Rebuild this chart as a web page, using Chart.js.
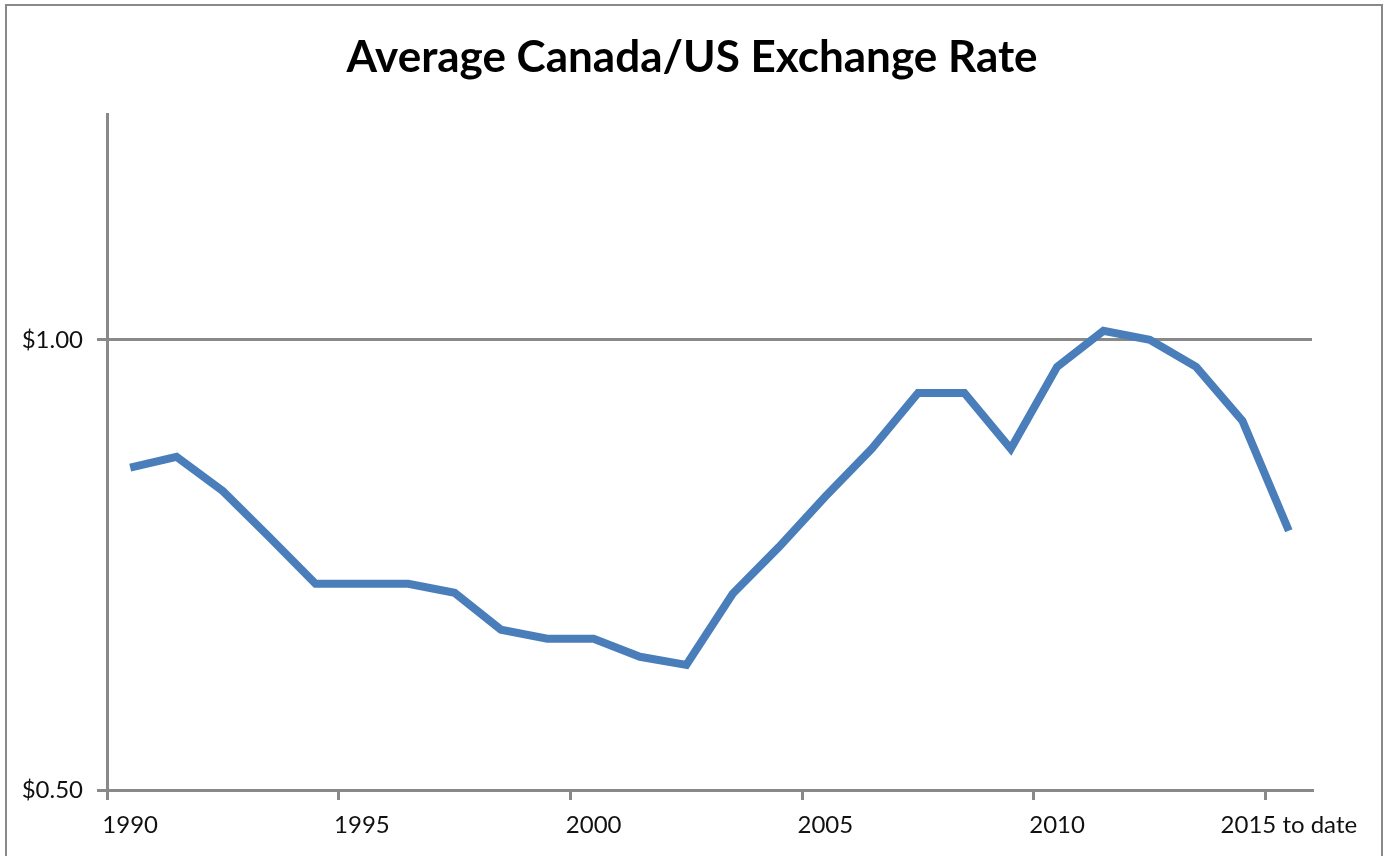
<!DOCTYPE html>
<html>
<head>
<meta charset="utf-8">
<script src="https://cdn.jsdelivr.net/npm/chart.js@4"></script>
<style>
  html, body { margin: 0; padding: 0; background: #fff; }
  canvas { display: block; }
</style>
</head>
<body>
<canvas id="c" width="1384" height="856"></canvas>
<script>
const years = ['1990','1991','1992','1993','1994','1995','1996','1997','1998','1999',
  '2000','2001','2002','2003','2004','2005','2006','2007','2008','2009',
  '2010','2011','2012','2013','2014','2015 to date'];
const rates = [0.858, 0.870, 0.832, 0.781, 0.729, 0.729, 0.729, 0.719, 0.678, 0.668,
  0.668, 0.648, 0.639, 0.718, 0.770, 0.826, 0.879, 0.941, 0.941, 0.879,
  0.970, 1.010, 1.000, 0.970, 0.910, 0.788];
const yTickValues = [0.5, 1.0];
const labelEvery = 5;

const GREY = '#898989';
const FONT = 'Lato, "Liberation Sans", sans-serif';

const framePlugin = {
  id: 'frame',
  beforeDraw(chart) {
    const ctx = chart.ctx;
    ctx.save();
    ctx.fillStyle = '#fff';
    ctx.fillRect(0, 0, chart.width, chart.height);
    ctx.strokeStyle = GREY;
    ctx.lineWidth = 2;
    ctx.strokeRect(6, 5, 1376, 870);
    ctx.restore();
  }
};

new Chart(document.getElementById('c'), {
  type: 'line',
  data: {
    labels: years,
    datasets: [{
      data: rates,
      borderColor: '#4a7ebb',
      borderWidth: 8,
      pointRadius: 0,
      pointHoverRadius: 0,
      tension: 0,
      fill: false
    }]
  },
  options: {
    responsive: false,
    animation: false,
    events: [],
    layout: { padding: { left: 0, right: 0, top: 0, bottom: 0 } },
    plugins: {
      legend: { display: false },
      tooltip: { enabled: false },
      title: {
        display: true,
        text: 'Average Canada/US Exchange Rate',
        color: '#000',
        font: { family: FONT, size: 44, weight: 'bold' },
        padding: { top: 31, bottom: 31 }
      }
    },
    scales: {
      x: {
        type: 'category',
        offset: true,
        grid: {
          offset: true,
          drawOnChartArea: false,
          drawTicks: true,
          tickLength: 10,
          lineWidth: 3,
          color: (ctx) => (ctx.index % labelEvery === 0 ? GREY : 'rgba(0,0,0,0)')
        },
        border: { display: true, color: GREY, width: 3 },
        ticks: {
          autoSkip: false,
          maxRotation: 0,
          minRotation: 0,
          padding: 11,
          color: '#111',
          font: { family: FONT, size: 24 },
          callback: function (value, index) {
            return index % labelEvery === 0 ? this.getLabelForValue(value) : '';
          }
        },
        afterFit: (scale) => { scale.height = 66; }
      },
      y: {
        type: 'linear',
        min: 0.5,
        max: 1.25,
        afterBuildTicks: (scale) => { scale.ticks = yTickValues.map(v => ({ value: v })); },
        grid: {
          drawTicks: true,
          tickLength: 10,
          lineWidth: 3,
          color: GREY
        },
        border: { display: true, color: GREY, width: 3 },
        ticks: {
          padding: 14,
          color: '#111',
          font: { family: FONT, size: 24 },
          callback: (v) => '$' + Number(v).toFixed(2)
        },
        afterFit: (scale) => { scale.width = 107; }
      },
      spacer: {
        type: 'linear',
        position: 'right',
        display: true,
        grid: { display: false, drawTicks: false },
        border: { display: false },
        ticks: { display: false },
        afterFit: (scale) => { scale.width = 72; }
      }
    }
  },
  plugins: [framePlugin]
});
</script>
</body>
</html>
